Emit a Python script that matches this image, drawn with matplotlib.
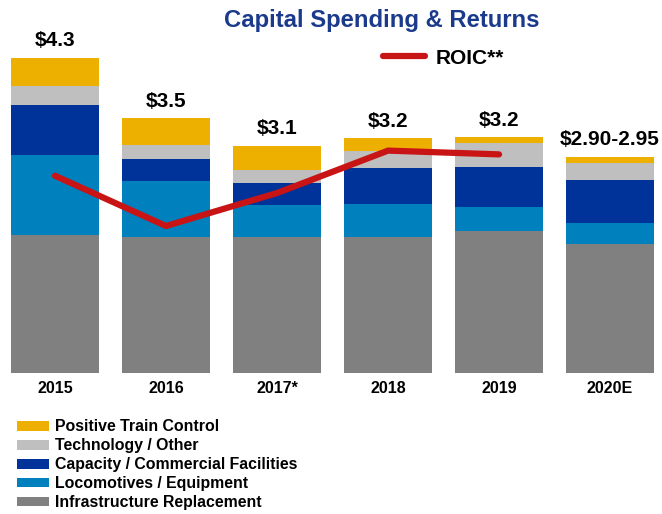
import matplotlib
matplotlib.use("Agg")
import matplotlib.pyplot as plt
import numpy as np

plt.rcParams['font.family'] = ['Liberation Sans', 'DejaVu Sans']
plt.rcParams['font.weight'] = 'bold'

years = ["2015", "2016", "2017*", "2018", "2019", "2020E"]
totals = ["$4.3", "$3.5", "$3.1", "$3.2", "$3.2", "$2.90-2.95"]

# capital spending by category, $ billions
infrastructure = [1.88, 1.86, 1.85, 1.86, 1.94, 1.76]
locomotives = [1.10, 0.76, 0.44, 0.44, 0.33, 0.29]
capacity = [0.68, 0.30, 0.30, 0.50, 0.54, 0.58]
technology = [0.26, 0.19, 0.18, 0.23, 0.33, 0.24]
ptc = [0.38, 0.37, 0.33, 0.17, 0.08, 0.08]

roic_years = [0, 1, 2, 3, 4]
roic = [12.4, 10.8, 11.85, 13.2, 13.08]

series = [
    ("Infrastructure Replacement", infrastructure, "#808080"),
    ("Locomotives / Equipment", locomotives, "#0080BC"),
    ("Capacity / Commercial Facilities", capacity, "#003399"),
    ("Technology / Other", technology, "#BFBFBF"),
    ("Positive Train Control", ptc, "#EEB000"),
]

fig = plt.figure(figsize=(6.62, 5.14), dpi=100)
ax = fig.add_axes([0, 1 - 373 / 514, 1, 343 / 514])
x = np.arange(len(years))

bottom = np.zeros(len(years))
handles = []
for name, vals, color in series:
    b = ax.bar(x, vals, 0.79, bottom=bottom, color=color, label=name,
               edgecolor="none")
    handles.append(b)
    bottom += np.array(vals)

for xi, top, lab in zip(x, bottom, totals):
    ax.text(xi, top + 0.1, lab, ha="center", va="bottom", fontsize=15,
            fontweight="bold")

ax.set_xlim(-0.495, 5.468)
ax.set_ylim(0, 343 / 73.3)
ax.set_xticks(x)
ax.set_xticklabels(years, fontsize=11.5, fontweight="bold")
ax.tick_params(axis="x", length=0, pad=6)
ax.set_yticks([])
for s in ax.spines.values():
    s.set_visible(False)

ax2 = ax.twinx()
line, = ax2.plot(roic_years, roic, color="#C81414", lw=4.5,
                 solid_capstyle="round", label="ROIC**")
ax2.set_ylim(6.12, 17.04)
ax2.set_yticks([])
for s in ax2.spines.values():
    s.set_visible(False)

fig.text(0.577, 1 - 20 / 514, "Capital Spending & Returns", ha="center",
         va="center", fontsize=17.2, fontweight="bold", color="#1B3A8C")

fig.legend([line], ["ROIC**"], loc="center left",
           bbox_to_anchor=(375 / 662, 1 - 58 / 514), frameon=False,
           fontsize=15, handlelength=2.0, handletextpad=0.53,
           borderaxespad=0)

fig.legend(handles[::-1], [s[0] for s in series][::-1], loc="upper left",
           bbox_to_anchor=(10.7 / 662, 1 - 413 / 514), frameon=False,
           prop={"size": 11.4, "weight": "bold"}, handlelength=2.0,
           handleheight=0.57, labelspacing=0.25, handletextpad=0.38,
           borderaxespad=0)

fig.savefig("out.png", dpi=100)
